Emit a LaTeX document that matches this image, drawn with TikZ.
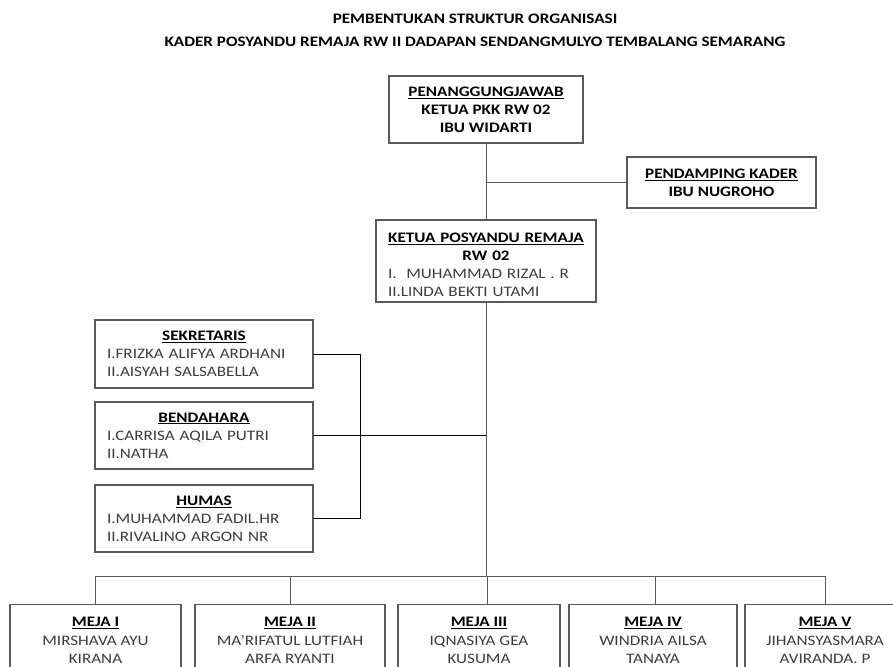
\documentclass[tikz,border=0pt]{standalone}
\usepackage{fontspec}
\setmainfont{Carlito}[FakeStretch=1.18]
\usetikzlibrary{calc,positioning}
\definecolor{Edge}{HTML}{5A5A5A}
\definecolor{Ink}{HTML}{3C3C3C}

\begin{document}
\begin{tikzpicture}[x=1pt, y=-1pt,
    box/.style={draw=Edge, line width=1.1pt, rectangle, inner sep=0pt,
        font=\fontsize{14.5}{18}\selectfont, text=Ink},
    wire/.style={draw=Edge, line width=0.9pt},
    brace/.style={draw=black, line width=0.7pt}]

    \def\Bus{576}
    \def\Top{604}

    \useasboundingbox (0,0) rectangle (893,666);

    % Title
    \node[font=\fontsize{14.5}{23}\selectfont\bfseries, align=center] (title) at (475,30)
        {PEMBENTUKAN STRUKTUR ORGANISASI\\KADER POSYANDU REMAJA RW II DADAPAN SENDANGMULYO TEMBALANG SEMARANG};

    % Top of the chart
    \node[box, minimum width=194pt, minimum height=67pt, align=center, text=black,
          font=\fontsize{14.5}{18}\selectfont\bfseries] (pj) at (486,109.5)
        {\underline{PENANGGUNGJAWAB}\\KETUA PKK RW 02\\IBU WIDARTI};
    \node[box, minimum width=189pt, minimum height=51pt, align=center, text=black,
          font=\fontsize{14.5}{18}\selectfont\bfseries] (pend) at (721.5,182.5)
        {\underline{PENDAMPING KADER}\\IBU NUGROHO};
    \node[box, minimum width=220pt, minimum height=82pt, text width=196pt, align=left] (ketua) at (486,261)
        {{\centering\color{black}\bfseries\rule{0pt}{17pt}\underline{KETUA POSYANDU REMAJA}\\RW 02\par}
         I.\ \ MUHAMMAD RIZAL . R\\II.LINDA BEKTI UTAMI};

    % Staff
    \node[box, minimum width=218pt, minimum height=68pt, text width=194pt, align=left] (sek) at (204,354)
        {{\centering\color{black}\bfseries\underline{SEKRETARIS}\par}
         I.FRIZKA ALIFYA ARDHANI\\II.AISYAH SALSABELLA};
    \node[box, minimum width=218pt, minimum height=67pt, text width=194pt, align=left] (bend) at (204,435.5)
        {{\centering\color{black}\bfseries\underline{BENDAHARA}\par}
         I.CARRISA AQILA PUTRI\\II.NATHA};
    \node[box, minimum width=218pt, minimum height=67pt, text width=194pt, align=left] (hum) at (204,518.5)
        {{\centering\color{black}\bfseries\underline{HUMAS}\par}
         I.MUHAMMAD FADIL.HR\\II.RIVALINO ARGON NR};

    % Meja
    \foreach \i/\x/\w/\d/\na/\nb/\nc in {
        1/95.5/171/95/I/MIRSHAVA AYU/KIRANA,
        2/290/190/290/II/MA’RIFATUL LUTFIAH/ARFA RYANTI,
        3/479/162/487/III/IQNASIYA GEA/KUSUMA,
        4/653/168/655/IV/WINDRIA AILSA/TANAYA,
        5/825/160/825/V/JIHANSYASMARA/AVIRANDA. P} {
        \node[box, anchor=north, minimum width=\w pt, inner ysep=13pt, text depth=30pt,
              font=\fontsize{14.5}{18.5}\selectfont, align=center]
            (meja-\i) at (\x,\Top)
            {{\color{black}\bfseries\underline{MEJA \na}}\\\nb\\\nc};
        \coordinate (drop-\i) at (\d,\Bus);
        \draw[wire] (drop-\i) -- (drop-\i |- meja-\i.north);
    }

    % Connectors
    \draw[wire] (pj.south) -- (ketua.north);
    \draw[wire] (pj.south |- pend.west) -- (pend.west);
    \draw[wire] (ketua.south) -- (ketua.south |- drop-1);
    \draw[wire] (drop-1) -- (drop-5);
    \draw[brace] (sek.east) -- ++(47,0) |- (hum.east);
    \draw[brace] (bend.east) -- (ketua.south |- bend.east);

\end{tikzpicture}
\end{document}
